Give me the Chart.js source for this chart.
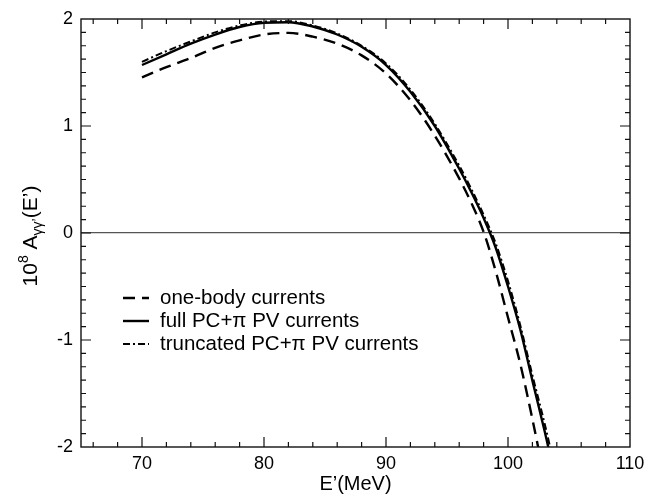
<!DOCTYPE html>
<html>
<head>
<meta charset="utf-8">
<script src="https://cdn.jsdelivr.net/npm/chart.js@4.4.0/dist/chart.umd.min.js"></script>
<style>
  html, body { margin: 0; padding: 0; background: #fff; }
</style>
</head>
<body>
<canvas id="myChart" width="652" height="496"></canvas>
<script>
// photon energy grid (MeV)
const energies = [70, 72, 74, 76, 78, 80, 82, 84, 86, 88, 90, 92, 94, 96, 97, 98, 99, 100, 101, 102, 103, 104];

// 10^8 x asymmetry for each current model
const oneBody = [1.455, 1.55, 1.635, 1.73, 1.80, 1.855, 1.87, 1.835, 1.77, 1.66, 1.49, 1.24, 0.91, 0.51, 0.28, 0.01, -0.36, -0.79, -1.22, -1.74, -2.3, null];
const fullPV = [1.57, 1.67, 1.77, 1.855, 1.925, 1.965, 1.97, 1.93, 1.855, 1.74, 1.57, 1.32, 1.00, 0.60, 0.38, 0.14, -0.14, -0.50, -0.90, -1.38, -1.85, -2.35];
const truncPV = [1.60, 1.70, 1.79, 1.875, 1.94, 1.975, 1.98, 1.94, 1.865, 1.75, 1.585, 1.34, 1.02, 0.63, 0.41, 0.17, -0.10, -0.45, -0.86, -1.33, -1.78, -2.28];

const seriesLabels = ['one-body currents', 'full PC+\u03c0 PV currents', 'truncated PC+\u03c0 PV currents'];
const xTicks = [70, 80, 90, 100, 110];
const yTicks = [-2, -1, 0, 1, 2];

const FONT = '"Liberation Sans", Arial, Helvetica, sans-serif';

function toPoints(vals) {
    return energies.map((e, i) => ({ x: e, y: vals[i] }));
}

// frame, inward ticks, y title and legend
const framePlugin = {
    id: 'frame',
    afterDatasetsDraw(chart) {
        const ctx = chart.ctx;
        const a = chart.chartArea;
        const xs = chart.scales.x, ys = chart.scales.y;
        ctx.save();
        ctx.strokeStyle = '#111';
        ctx.lineWidth = 1.4;
        ctx.strokeRect(a.left, a.top, a.right - a.left, a.bottom - a.top);

        ctx.lineWidth = 1.2;
        ctx.beginPath();
        for (let v = 66; v < 110; v += 2) {
            const len = v % 10 === 0 ? 10 : 5;
            const px = xs.getPixelForValue(v);
            ctx.moveTo(px, a.bottom); ctx.lineTo(px, a.bottom - len);
            ctx.moveTo(px, a.top); ctx.lineTo(px, a.top + len);
        }
        for (let v = -1.875; v < 2; v += 0.125) {
            const major = Math.abs(v - Math.round(v)) < 1e-6;
            const len = major ? 10 : 5;
            const py = ys.getPixelForValue(v);
            ctx.moveTo(a.left, py); ctx.lineTo(a.left + len, py);
            ctx.moveTo(a.right, py); ctx.lineTo(a.right - len, py);
        }
        ctx.stroke();

        // y axis title: 10^8 A_{γγ'}(E')
        ctx.translate(29, (a.top + a.bottom) / 2 + 3);
        ctx.rotate(-Math.PI / 2);
        ctx.fillStyle = '#000';
        ctx.textBaseline = 'alphabetic';
        const parts = [
            { t: '10', size: 21, dy: 0 },
            { t: '8', size: 14, dy: -9 },
            { t: ' A', size: 21, dy: 0 },
            { t: '\u03b3\u03b3\u2019', size: 14, dy: 5 },
            { t: '(E\u2019)', size: 21, dy: 0 }
        ];
        let total = 0;
        parts.forEach(p => { ctx.font = p.size + 'px ' + FONT; total += ctx.measureText(p.t).width; });
        let cx = -total / 2;
        parts.forEach(p => {
            ctx.font = p.size + 'px ' + FONT;
            ctx.fillText(p.t, cx, 8 + p.dy);
            cx += ctx.measureText(p.t).width;
        });
        ctx.restore();

        // legend
        ctx.save();
        ctx.font = '20.5px ' + FONT;
        ctx.fillStyle = '#000';
        ctx.textBaseline = 'middle';
        const rows = [298, 321, 344];
        chart.data.datasets.forEach((ds, i) => {
            const y = rows[i];
            ctx.beginPath();
            ctx.strokeStyle = ds.borderColor;
            ctx.lineWidth = ds.borderWidth;
            ctx.setLineDash(ds.borderDash || []);
            ctx.moveTo(123, y); ctx.lineTo(149, y);
            ctx.stroke();
            ctx.setLineDash([]);
            ctx.fillText(ds.label, 160, y);
        });
        ctx.restore();
    }
};

const ctx = document.getElementById('myChart').getContext('2d');
const myChart = new Chart(ctx, {
    type: 'line',
    data: {
        datasets: [{
            label: seriesLabels[0],
            data: toPoints(oneBody),
            borderColor: '#000',
            borderWidth: 2.4,
            borderDash: [12, 7]
        }, {
            label: seriesLabels[1],
            data: toPoints(fullPV),
            borderColor: '#000',
            borderWidth: 2.4
        }, {
            label: seriesLabels[2],
            data: toPoints(truncPV),
            borderColor: '#000',
            borderWidth: 2,
            borderDash: [7, 3, 2, 3]
        }]
    },
    options: {
        responsive: false,
        animation: false,
        devicePixelRatio: 1,
        layout: { padding: { top: 19, right: 22, left: 0, bottom: 0 } },
        elements: {
            point: { radius: 0 },
            line: { cubicInterpolationMode: 'monotone', fill: false }
        },
        plugins: {
            legend: { display: false },
            tooltip: { enabled: false }
        },
        scales: {
            x: {
                type: 'linear',
                min: 65,
                max: 110,
                afterBuildTicks: s => { s.ticks = xTicks.map(v => ({ value: v })); },
                afterFit: s => { s.height = 49; },
                grid: { display: false, drawTicks: false },
                border: { display: false },
                ticks: { color: '#000', padding: 6, font: { family: FONT, size: 18 } },
                title: {
                    display: true,
                    text: 'E\u2019(MeV)',
                    color: '#000',
                    padding: { top: -1, bottom: 0 },
                    font: { family: FONT, size: 20 }
                }
            },
            y: {
                min: -2,
                max: 2,
                afterBuildTicks: s => { s.ticks = yTicks.map(v => ({ value: v })); },
                afterFit: s => { s.width = 81; },
                grid: {
                    drawTicks: false,
                    color: c => c.tick.value === 0 ? '#555' : 'rgba(0,0,0,0)',
                    lineWidth: 1.2
                },
                border: { display: false },
                ticks: { color: '#000', padding: 8, font: { family: FONT, size: 18 } }
            }
        }
    },
    plugins: [framePlugin]
});
</script>
</body>
</html>
